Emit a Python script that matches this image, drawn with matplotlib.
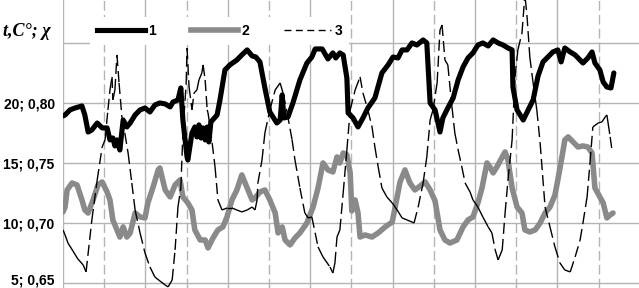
"""
Temperature / humidity ratio time series (series 1-3) with dual-scale y labels.
"""

import matplotlib
matplotlib.use("Agg")
import matplotlib.pyplot as plt
import matplotlib.transforms as mtransforms
import numpy as np
from matplotlib.collections import LineCollection
from matplotlib.lines import Line2D

plt.rcParams["font.family"] = ["Liberation Sans", "DejaVu Sans"]
plt.rcParams["lines.scale_dashes"] = False

# series 1: thick black
x1 = [0.00, 0.05, 0.17, 0.29, 0.46, 0.53, 0.61, 0.70, 0.83, 0.95, 1.07, 1.14, 1.21, 1.26,
      1.31, 1.38, 1.46, 1.55, 1.63, 1.75, 1.87, 1.99, 2.11, 2.23, 2.35, 2.48, 2.60, 2.67,
      2.79, 2.86, 2.91, 3.01, 3.03, 3.13, 3.20, 3.25, 3.30, 3.35, 3.40, 3.45, 3.50, 3.54,
      3.59, 3.74, 3.81, 3.93, 4.05, 4.22, 4.34, 4.47, 4.59, 4.68, 4.78, 4.90, 5.02, 5.19,
      5.27, 5.32, 5.36, 5.46, 5.58, 5.75, 5.92, 6.04, 6.12, 6.29, 6.43, 6.55, 6.62, 6.72,
      6.80, 6.89, 6.92, 7.04, 7.16, 7.28, 7.40, 7.57, 7.74, 7.89, 8.01, 8.13, 8.23, 8.35,
      8.47, 8.59, 8.74, 8.83, 8.91, 9.03, 9.15, 9.22, 9.34, 9.47, 9.59, 9.71, 9.83, 9.95,
      10.07, 10.19, 10.32, 10.44, 10.56, 10.68, 10.80, 10.90, 10.92, 11.02, 11.17, 11.29,
      11.41, 11.53, 11.65, 11.77, 11.89, 12.01, 12.09, 12.18, 12.31, 12.43, 12.55, 12.62,
      12.74, 12.84, 12.91, 13.03, 13.11, 13.20, 13.30, 13.37]
t1 = [18.92, 19.00, 19.42, 19.58, 19.75, 19.00, 17.58, 17.75, 18.33, 17.92, 17.92, 16.92,
      17.08, 16.42, 16.92, 16.08, 18.58, 18.00, 18.33, 19.00, 19.42, 19.58, 19.25, 19.83,
      20.00, 19.92, 19.67, 20.08, 20.25, 21.25, 18.58, 15.50, 15.25, 17.50, 18.00, 17.17,
      18.17, 17.08, 17.92, 16.92, 18.00, 16.75, 18.42, 19.00, 20.25, 22.75, 23.17, 23.58,
      24.00, 24.42, 23.92, 23.83, 23.42, 21.25, 19.25, 18.33, 18.58, 20.67, 18.75, 18.83,
      20.00, 21.92, 23.33, 23.83, 24.50, 24.50, 23.67, 24.17, 23.75, 24.17, 24.00, 22.08,
      19.17, 18.75, 18.00, 18.75, 19.58, 20.42, 22.50, 23.17, 23.83, 23.75, 24.42, 24.42,
      25.00, 24.83, 25.25, 25.00, 20.00, 19.42, 17.58, 18.75, 19.58, 20.42, 21.92, 23.00,
      23.75, 24.17, 24.83, 25.00, 24.75, 25.25, 25.00, 24.83, 24.58, 24.42, 21.33, 19.42,
      18.58, 19.42, 20.25, 22.25, 23.42, 23.83, 24.25, 24.42, 23.42, 24.58, 24.25, 24.00,
      23.58, 23.33, 23.75, 24.25, 23.33, 22.75, 21.75, 21.33, 21.25, 22.50]

# series 2: thick grey
x2 = [0.00, 0.05, 0.10, 0.22, 0.34, 0.46, 0.53, 0.61, 0.73, 0.85, 0.95, 1.07, 1.14, 1.21,
      1.31, 1.38, 1.46, 1.55, 1.63, 1.75, 1.87, 1.99, 2.06, 2.18, 2.31, 2.35, 2.48, 2.60,
      2.72, 2.84, 2.91, 3.03, 3.13, 3.20, 3.33, 3.45, 3.52, 3.64, 3.76, 3.88, 3.98, 4.10,
      4.22, 4.34, 4.47, 4.59, 4.66, 4.78, 4.90, 5.02, 5.15, 5.22, 5.32, 5.39, 5.51, 5.63,
      5.75, 5.92, 6.07, 6.19, 6.31, 6.43, 6.55, 6.65, 6.72, 6.80, 6.89, 6.97, 7.01, 7.09,
      7.16, 7.21, 7.33, 7.50, 7.65, 7.82, 7.99, 8.11, 8.18, 8.30, 8.42, 8.54, 8.67, 8.79,
      8.91, 9.03, 9.15, 9.27, 9.39, 9.56, 9.71, 9.83, 9.95, 10.07, 10.17, 10.29, 10.36,
      10.44, 10.53, 10.66, 10.73, 10.80, 10.90, 11.02, 11.14, 11.21, 11.33, 11.46, 11.58,
      11.70, 11.82, 11.94, 12.01, 12.11, 12.18, 12.26, 12.38, 12.50, 12.62, 12.74, 12.84,
      12.91, 13.03, 13.11, 13.20, 13.28, 13.35]
t2 = [10.92, 11.33, 12.75, 13.33, 13.17, 11.92, 11.08, 10.83, 11.92, 13.17, 13.42, 12.58,
      11.92, 10.25, 9.42, 8.83, 9.67, 8.83, 9.17, 10.83, 10.50, 10.42, 11.67, 12.92, 14.42,
      14.58, 12.75, 12.17, 13.17, 13.58, 12.17, 11.67, 11.08, 9.42, 8.58, 8.58, 7.92, 8.75,
      9.42, 9.67, 10.50, 11.92, 12.75, 14.00, 12.92, 11.92, 12.08, 12.58, 12.75, 11.92,
      10.83, 9.17, 9.67, 8.58, 8.17, 8.75, 9.17, 10.00, 11.33, 12.92, 15.00, 14.42, 14.25,
      15.50, 15.00, 15.83, 15.67, 14.17, 11.00, 11.92, 10.83, 8.83, 9.00, 8.83, 9.17, 9.67,
      10.08, 12.17, 13.42, 14.42, 13.33, 12.75, 13.08, 13.42, 12.75, 11.83, 9.42, 8.58,
      8.33, 8.58, 9.67, 10.25, 10.50, 11.67, 12.92, 15.00, 14.67, 14.17, 14.67, 15.50,
      15.92, 15.25, 12.92, 11.33, 10.83, 9.42, 9.25, 9.42, 10.00, 10.83, 11.33, 12.33,
      13.58, 15.50, 16.92, 17.17, 16.75, 16.33, 16.42, 16.33, 15.83, 12.92, 12.17, 11.67,
      10.42, 10.67, 10.83]

# series 3: thin, dashed
x3 = [0.00, 0.05, 0.12, 0.24, 0.36, 0.49, 0.56, 0.70, 0.83, 0.95, 1.02, 1.09, 1.14, 1.19,
      1.21, 1.26, 1.31, 1.36, 1.43, 1.50, 1.58, 1.67, 1.75, 1.87, 1.99, 2.11, 2.23, 2.35,
      2.48, 2.55, 2.65, 2.72, 2.79, 2.86, 2.91, 2.99, 3.01, 3.06, 3.13, 3.18, 3.25, 3.30,
      3.37, 3.40, 3.45, 3.50, 3.52, 3.57, 3.62, 3.69, 3.76, 3.86, 3.98, 4.10, 4.22, 4.34,
      4.47, 4.59, 4.66, 4.71, 4.73, 4.83, 4.90, 5.02, 5.15, 5.27, 5.34, 5.44, 5.56, 5.63,
      5.75, 5.87, 5.95, 6.04, 6.12, 6.19, 6.31, 6.48, 6.55, 6.60, 6.65, 6.72, 6.80, 6.89,
      6.97, 7.09, 7.21, 7.28, 7.40, 7.50, 7.57, 7.65, 7.74, 7.86, 7.99, 8.11, 8.23, 8.35,
      8.47, 8.52, 8.62, 8.74, 8.83, 8.91, 8.98, 9.08, 9.15, 9.20, 9.27, 9.34, 9.44, 9.51,
      9.59, 9.68, 9.76, 9.88, 9.95, 10.07, 10.19, 10.32, 10.41, 10.49, 10.56, 10.66, 10.73,
      10.80, 10.90, 10.97, 11.04, 11.14, 11.21, 11.26, 11.33, 11.41, 11.50, 11.58, 11.70,
      11.82, 11.94, 12.06, 12.18, 12.31, 12.43, 12.55, 12.62, 12.72, 12.79, 12.86, 12.99,
      13.08, 13.16, 13.20, 13.23, 13.28, 13.33]
t3 = [9.42, 9.00, 8.33, 7.67, 7.00, 6.50, 5.92, 10.25, 13.58, 16.33, 16.92, 19.42, 21.08,
      22.17, 20.25, 21.08, 24.00, 21.67, 18.83, 17.50, 15.83, 13.33, 11.08, 9.17, 7.50,
      6.33, 5.50, 5.17, 4.83, 4.67, 5.25, 7.75, 11.33, 12.92, 17.50, 21.67, 24.58, 21.33,
      19.42, 20.83, 21.08, 21.92, 22.50, 23.17, 21.92, 19.42, 19.17, 18.00, 16.67, 14.67,
      11.92, 11.08, 11.25, 11.25, 11.08, 10.92, 11.08, 11.33, 11.08, 11.92, 13.33, 15.25,
      17.50, 19.42, 21.08, 21.67, 20.83, 19.17, 16.92, 15.25, 12.92, 10.83, 10.42, 10.50,
      9.17, 8.00, 7.17, 6.33, 5.83, 6.67, 8.83, 9.42, 12.50, 16.08, 19.42, 21.08, 22.17,
      20.83, 19.42, 18.00, 16.33, 14.67, 12.92, 12.17, 11.67, 11.08, 10.42, 10.25, 10.08,
      10.00, 11.33, 13.33, 15.50, 18.58, 19.42, 21.67, 26.08, 26.50, 23.58, 23.17, 19.67,
      17.50, 16.08, 14.67, 13.33, 12.58, 11.92, 11.33, 10.50, 9.67, 9.17, 7.75, 6.92, 7.75,
      10.83, 13.58, 16.92, 22.17, 24.42, 25.83, 29.00, 27.33, 23.83, 21.67, 19.42, 16.67,
      11.33, 9.67, 8.00, 6.67, 6.08, 5.92, 7.17, 8.58, 10.00, 12.17, 15.00, 18.00, 18.33,
      18.42, 18.83, 19.00, 18.33, 17.17, 15.92]

y_ticks = [5, 10, 15, 20, 25]
y_tick_labels = ["5; 0,65", "10; 0,70", "15; 0,75", "20; 0,80", ""]
series_labels = ["1", "2", "3"]

GRID = "#b4b4b4"
GREY = "#8a8a8a"
DASH = (0, (8.0, 3.6))

fig = plt.figure(figsize=(6.39, 2.88), dpi=100)
ax = fig.add_axes([63 / 639, 0.0, 1 - 63 / 639, 1.0])

ax.plot(x2, t2, color=GREY, lw=4.0, solid_joinstyle="round", solid_capstyle="round", zorder=3)
ax.plot(x1, t1, color="black", lw=3.7, solid_joinstyle="round", solid_capstyle="round", zorder=4)

# thin line: dash pattern restarts on every segment (short steps look solid)
pts = np.column_stack([x3, t3])
segs = np.stack([pts[:-1], pts[1:]], axis=1)
lc = LineCollection(segs, colors="black", linewidths=1.0, linestyles=[DASH], zorder=5)
ax.add_collection(lc)

ax.set_xlim(0, 13.98)
ax.set_ylim(4.58, 28.58)
ax.set_xticks(np.arange(0, 14, 2))
ax.set_xticks(np.arange(1, 14, 2), minor=True)
ax.set_yticks(y_ticks)
ax.set_yticklabels(y_tick_labels, fontsize=10, fontweight="bold")
ax.tick_params(axis="both", which="both", length=0)
ax.tick_params(axis="y", pad=6)
ax.set_xticklabels([])
ax.grid(True, which="major", color=GRID, lw=1.0)
ax.grid(True, which="minor", axis="x", color=GRID, lw=1.0, linestyle=(0, (7, 3)))
ax.set_axisbelow(True)
for s in ax.spines.values():
    s.set_visible(False)

# bottom label sits just above the figure edge
lowest = ax.get_yticklabels()[0]
lowest.set_transform(lowest.get_transform()
                     + mtransforms.ScaledTranslation(0, 4 / 100, fig.dpi_scale_trans))

handles = [
    Line2D([], [], color="black", lw=3.7),
    Line2D([], [], color=GREY, lw=4.0),
    Line2D([], [], color="black", lw=1.0, linestyle=(0, (5.0, 3.2))),
]
leg = ax.legend(handles, series_labels, loc="center", bbox_to_anchor=(0.272, 0.893),
                ncol=3, frameon=True, fancybox=False, handlelength=3.4,
                handletextpad=0.25, columnspacing=2.5, borderpad=0.5,
                prop={"weight": "bold", "size": 10})
leg.get_frame().set_facecolor("white")
leg.get_frame().set_edgecolor("none")
leg.get_frame().set_alpha(1.0)
leg.set_zorder(6)

fig.text(3 / 639, 1 - 32 / 288, "t,C°; χ", family="Liberation Serif", style="italic",
         weight="bold", fontsize=13, ha="left", va="center")

fig.savefig("out.png", dpi=100)
plt.close(fig)
